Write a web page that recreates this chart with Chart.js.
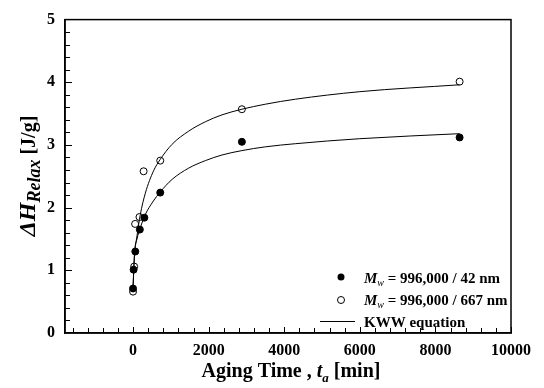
<!DOCTYPE html>
<html>
<head>
<meta charset="utf-8">
<script src="https://cdn.jsdelivr.net/npm/chart.js@4"></script>
<style>
  html, body { margin: 0; padding: 0; background: #fff; }
  #wrap { width: 544px; height: 388px; position: relative; }
</style>
</head>
<body>
<div id="wrap"><canvas id="chart" width="544" height="388"></canvas></div>
<script>
// measured points, aging time in minutes
const time42 = [0, 15, 60, 180, 300, 720, 2880, 8640];
const dh42 = [0.71, 1.01, 1.30, 1.65, 1.84, 2.24, 3.05, 3.12];
const time667 = [0, 30, 55, 170, 280, 720, 2880, 8640];
const dh667 = [0.66, 1.06, 1.74, 1.85, 2.58, 2.75, 3.57, 4.01];

// KWW fit curves
const kwwTime42 = [0, 42, 105, 193, 325, 520, 720, 1032, 1471, 1913, 2354, 2880, 3500, 4294, 6000, 8640];
const kwwDh42 = [0.75, 1.29, 1.50, 1.68, 1.89, 2.09, 2.25, 2.45, 2.63, 2.75, 2.84, 2.91, 2.97, 3.02, 3.10, 3.18];
const kwwTime667 = [0, 34, 105, 193, 325, 545, 720, 1032, 1471, 1913, 2354, 2880, 3500, 4294, 6000, 8640];
const kwwDh667 = [0.70, 1.19, 1.55, 1.89, 2.23, 2.59, 2.77, 3.01, 3.22, 3.37, 3.48, 3.57, 3.65, 3.73, 3.85, 3.96];

const xTicks = [0, 2000, 4000, 6000, 8000, 10000];
const yTicks = [0, 1, 2, 3, 4, 5];

const serif = '"Liberation Serif", "Times New Roman", serif';

function pairs(xs, ys) {
    return xs.map((x, i) => ({ x: x, y: ys[i] }));
}

// draw a list of text runs with their own fonts (for italics / subscripts)
function drawRuns(ctx, runs, x, y, align) {
    let total = 0;
    runs.forEach(r => { ctx.font = r.font; total += ctx.measureText(r.text).width; });
    let cx = align === 'center' ? x - total / 2 : x;
    runs.forEach(r => {
        ctx.font = r.font;
        ctx.fillText(r.text, cx, y + (r.dy || 0));
        cx += ctx.measureText(r.text).width;
    });
}

const decorPlugin = {
    id: 'decor',
    afterDraw(chart) {
        const ctx = chart.ctx;
        const a = chart.chartArea;
        const xs = chart.scales.x, ys = chart.scales.y;
        ctx.save();
        ctx.strokeStyle = '#000';
        ctx.fillStyle = '#000';

        // frame
        ctx.lineWidth = 1.5;
        ctx.strokeRect(a.left, a.top, a.right - a.left, a.bottom - a.top);

        // inward ticks
        ctx.lineWidth = 1;
        ctx.beginPath();
        for (let v = -1600; v <= 10000; v += 400) {
            const px = Math.round(xs.getPixelForValue(v)) + 0.5;
            const len = v % 2000 === 0 ? 6 : 5;
            ctx.moveTo(px, a.bottom);
            ctx.lineTo(px, a.bottom - len);
        }
        for (let i = 1; i < 25; i++) {
            const v = i * 0.2;
            const py = Math.round(ys.getPixelForValue(v)) + 0.5;
            const len = i % 5 === 0 ? 7 : 5;
            ctx.moveTo(a.left, py);
            ctx.lineTo(a.left + len, py);
        }
        ctx.stroke();

        // legend
        ctx.textBaseline = 'alphabetic';
        ctx.beginPath();
        ctx.arc(341, 277, 3.5, 0, Math.PI * 2);
        ctx.fill();
        ctx.beginPath();
        ctx.arc(341, 300, 3.5, 0, Math.PI * 2);
        ctx.fillStyle = '#fff';
        ctx.fill();
        ctx.stroke();
        ctx.fillStyle = '#000';
        ctx.beginPath();
        ctx.moveTo(320, 321.5);
        ctx.lineTo(355, 321.5);
        ctx.stroke();
        const big = 'bold 15px ' + serif;
        const it = 'italic bold 15px ' + serif;
        const sub = 'italic 10px ' + serif;
        drawRuns(ctx, [{ text: 'M', font: it }, { text: 'w', font: sub, dy: 3 }, { text: ' = 996,000 / 42 nm', font: big }], 364, 283);
        drawRuns(ctx, [{ text: 'M', font: it }, { text: 'w', font: sub, dy: 3 }, { text: ' = 996,000 / 667 nm', font: big }], 364, 305);
        drawRuns(ctx, [{ text: 'KWW equation', font: big }], 364, 327);

        // x axis title
        const tf = 'bold 20px ' + serif;
        const ti = 'italic bold 20px ' + serif;
        drawRuns(ctx, [
            { text: 'Aging Time , ', font: tf },
            { text: 't', font: ti },
            { text: 'a', font: 'italic bold 13px ' + serif, dy: 5 },
            { text: ' [min]', font: tf }
        ], 291, 377, 'center');

        // y axis title
        ctx.translate(35, 176);
        ctx.rotate(-Math.PI / 2);
        drawRuns(ctx, [
            { text: '\u0394H', font: 'italic bold 24px ' + serif },
            { text: 'Relax', font: 'italic bold 18px ' + serif, dy: 5 },
            { text: ' [J/g]', font: 'bold 20px ' + serif }
        ], 0, 0, 'center');
        ctx.restore();
    }
};

new Chart(document.getElementById('chart').getContext('2d'), {
    type: 'scatter',
    data: {
        datasets: [
            {
                label: 'KWW 667',
                type: 'line',
                data: pairs(kwwTime667, kwwDh667),
                borderColor: '#000',
                borderWidth: 1,
                pointRadius: 0,
                cubicInterpolationMode: 'monotone',
                fill: false
            },
            {
                label: 'KWW 42',
                type: 'line',
                data: pairs(kwwTime42, kwwDh42),
                borderColor: '#000',
                borderWidth: 1,
                pointRadius: 0,
                cubicInterpolationMode: 'monotone',
                fill: false
            },
            {
                label: 'Mw = 996,000 / 42 nm',
                data: pairs(time42, dh42),
                pointRadius: 3.5,
                backgroundColor: '#000',
                borderColor: '#000',
                borderWidth: 1
            },
            {
                label: 'Mw = 996,000 / 667 nm',
                data: pairs(time667, dh667),
                pointRadius: 3.5,
                backgroundColor: '#fff',
                borderColor: '#000',
                borderWidth: 1
            }
        ]
    },
    options: {
        responsive: false,
        animation: false,
        events: [],
        layout: { padding: { left: 0, right: 33, top: 12, bottom: 0 } },
        plugins: {
            legend: { display: false },
            tooltip: { enabled: false }
        },
        scales: {
            x: {
                type: 'linear',
                min: -1800,
                max: 10000,
                afterBuildTicks: s => { s.ticks = xTicks.map(v => ({ value: v })); },
                afterFit: s => { s.height = 55; },
                grid: { display: false, drawTicks: false },
                border: { display: true, color: '#000', width: 1.5 },
                ticks: {
                    color: '#000',
                    font: { family: serif, size: 16, weight: 'bold' },
                    padding: 8,
                    maxRotation: 0,
                    callback: v => String(v)
                }
            },
            y: {
                min: 0,
                max: 5,
                afterBuildTicks: s => { s.ticks = yTicks.map(v => ({ value: v })); },
                afterFit: s => { s.width = 65; },
                grid: { display: false, drawTicks: false },
                border: { display: true, color: '#000', width: 1.5 },
                ticks: {
                    color: '#000',
                    font: { family: serif, size: 16, weight: 'bold' },
                    padding: 10,
                    callback: v => String(v)
                }
            }
        }
    },
    plugins: [decorPlugin]
});
</script>
</body>
</html>
